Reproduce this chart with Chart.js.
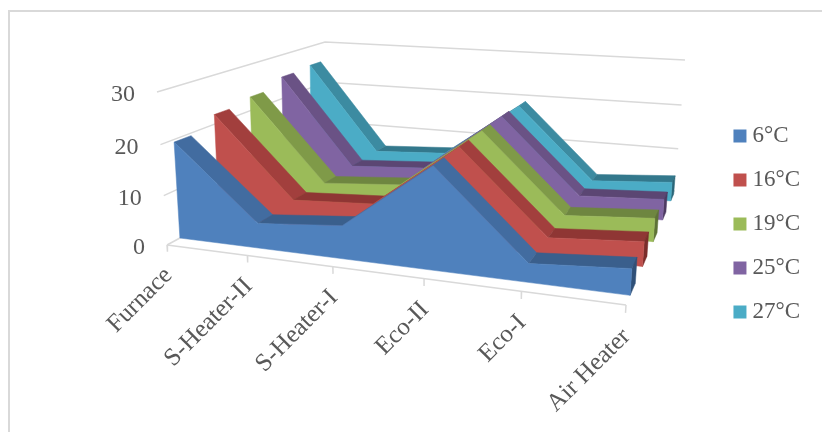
<!DOCTYPE html>
<html>
<head>
<meta charset="utf-8">
<title>Temperature profile</title>
<script src="https://cdn.jsdelivr.net/npm/chart.js@4/dist/chart.umd.js"></script>
<style>
    html, body { margin: 0; padding: 0; background: #fff; }
    #wrap { position: relative; width: 822px; height: 432px; overflow: hidden; }
    #frame { position: absolute; left: 8px; top: 10px; right: -4px; bottom: -4px; border: 2px solid #d9d9d9; }
    canvas { position: absolute; left: 0; top: 0; }
</style>
</head>
<body>
<div id="wrap">
    <div id="frame"></div>
    <canvas id="chart" width="822" height="432"></canvas>
</div>
<script>
const categories = ['Furnace', 'S-Heater-II', 'S-Heater-I', 'Eco-II', 'Eco-I', 'Air Heater'];
const seriesNames = ['6°C', '16°C', '19°C', '25°C', '27°C'];
const values6 = [19.5, 5, 6.5, 19.5, 3.5, 4.8];
const values16 = [22, 5.5, 6.5, 19.5, 3.5, 4.8];
const values19 = [23, 5.2, 6.5, 19.5, 3.5, 4.8];
const values25 = [25, 5.4, 6.5, 19.5, 3.5, 4.5];
const values27 = [25.5, 5.5, 6.5, 19, 3, 4.3];
const valueTicks = [0, 10, 20, 30];

const allValues = [values6, values16, values19, values25, values27];
const faceColors = ['#4f81bd', '#c0504d', '#9bbb59', '#8064a2', '#4bacc6'];
const slopeColors = ['#426ca0', '#a23f3d', '#7f9a48', '#6a5285', '#3c8ba1'];
const flatColors = ['#3a5f8c', '#8f3634', '#6e8640', '#5b4673', '#33788c'];
const capColors = ['#2f5078', '#7a2d2b', '#5e7236', '#4d3b62', '#2b6678'];
const gridColor = '#d9d9d9';
const textColor = '#595959';
const fontFamily = '"Liberation Serif", serif';
const chartTop = 16;

// camera: corners of the floor and of the 30 plane, front-left going round to back-left
const floorCorners = [[167, 245], [626, 305], [675, 191], [326, 159]];
const topCorners = [[157, 92], [637, 127], [685, 60], [325, 42]];
const axisMax = 30;
const heightBias = 1.05;

// depth bands of the series along the floor
const bandStart = 0.062;
const bandPitch = 0.205;
const bandDepth = 0.082;

function squareToQuad(q) {
    const [x0, y0] = q[0], [x1, y1] = q[1], [x2, y2] = q[2], [x3, y3] = q[3];
    const dx1 = x1 - x2, dx2 = x3 - x2, sx = x0 - x1 + x2 - x3;
    const dy1 = y1 - y2, dy2 = y3 - y2, sy = y0 - y1 + y2 - y3;
    const den = dx1 * dy2 - dx2 * dy1;
    const g = (sx * dy2 - dx2 * sy) / den;
    const h = (dx1 * sy - sx * dy1) / den;
    const a = x1 - x0 + g * x1, b = x3 - x0 + h * x3;
    const d = y1 - y0 + g * y1, e = y3 - y0 + h * y3;
    return (u, v) => {
        const w = g * u + h * v + 1;
        return { x: (a * u + b * v + x0) / w, y: (d * u + e * v + y0) / w };
    };
}

const floorMap = squareToQuad(floorCorners);
const topMap = squareToQuad(topCorners);

// category index, depth 0..1 and value -> scene point
function project(cat, depth, value) {
    const u = cat / (categories.length - 1);
    const lo = floorMap(u, depth), hi = topMap(u, depth);
    const t = value / axisMax;
    const k = t / (t + (1 - t) * heightBias);
    return { x: lo.x + (hi.x - lo.x) * k, y: lo.y + (hi.y - lo.y) * k };
}

function polygon(points, color) {
    return { data: points, polygon: true, backgroundColor: color, pointRadius: 0 };
}

function gridLine(points) {
    return { data: points, showLine: true, borderColor: gridColor, borderWidth: 1.5, pointRadius: 0 };
}

// listed in paint order, the chart paints its last dataset first
const paintOrder = [];

valueTicks.forEach(v => {
    paintOrder.push(gridLine([project(0, 0, v), project(0, 1, v), project(categories.length - 1, 1, v)]));
});
paintOrder.push(gridLine([project(0, 0, 0), project(categories.length - 1, 0, 0)]));
categories.forEach((c, i) => {
    paintOrder.push(gridLine([project(i, 0, 0), project(i, 0, -1.4)]));
});

for (let s = allValues.length - 1; s >= 0; s--) {
    const vals = allValues[s];
    const last = vals.length - 1;
    const front = bandStart + bandPitch * s;
    const back = front + bandDepth;

    for (let i = 0; i < last; i++) {
        const steep = Math.abs(vals[i + 1] - vals[i]) > 5;
        paintOrder.push(polygon([
            project(i, front, vals[i]),
            project(i + 1, front, vals[i + 1]),
            project(i + 1, back, vals[i + 1]),
            project(i, back, vals[i])
        ], steep ? slopeColors[s] : flatColors[s]));
    }

    paintOrder.push(polygon([
        project(last, front, vals[last]),
        project(last, back, vals[last]),
        project(last, back, 0),
        project(last, front, 0)
    ], capColors[s]));

    const face = vals.map((v, i) => project(i, front, v));
    face.push(project(last, front, 0), project(0, front, 0));
    paintOrder.push(polygon(face, faceColors[s]));
}

// fills a dataset's points as one closed shape
const polygonFill = {
    id: 'polygonFill',
    beforeDatasetDraw(chart, args) {
        const ds = chart.data.datasets[args.index];
        if (!ds.polygon) return;
        const ctx = chart.ctx;
        ctx.save();
        ctx.beginPath();
        args.meta.data.forEach((p, i) => {
            if (i === 0) ctx.moveTo(p.x, p.y);
            else ctx.lineTo(p.x, p.y);
        });
        ctx.closePath();
        ctx.fillStyle = ds.backgroundColor;
        ctx.strokeStyle = ds.backgroundColor;
        ctx.lineWidth = 0.5;
        ctx.fill();
        ctx.stroke();
        ctx.restore();
        return false;
    }
};

// axis text follows the slanted edges of the box, so it is placed by hand
const axisText = {
    id: 'axisText',
    afterDatasetsDraw(chart) {
        const ctx = chart.ctx;
        const { x, y } = chart.scales;
        ctx.save();
        ctx.fillStyle = textColor;
        ctx.font = '24px ' + fontFamily;

        ctx.textAlign = 'right';
        ctx.textBaseline = 'middle';
        valueTicks.forEach(v => {
            const p = project(0, 0, v);
            ctx.fillText(String(v), x.getPixelForValue(p.x) - 22, y.getPixelForValue(p.y) + 3);
        });

        ctx.font = '25px ' + fontFamily;
        categories.forEach((c, i) => {
            const p = project(i, 0, -1.4);
            ctx.save();
            ctx.translate(x.getPixelForValue(p.x) + 1, y.getPixelForValue(p.y) + 20);
            ctx.rotate(-Math.PI / 4);
            ctx.fillText(c, 0, 0);
            ctx.restore();
        });
        ctx.restore();
    }
};

// scene units are canvas pixels
function pixelRangeX(scale) {
    scale.min = 0;
    scale.max = scale.width;
}

function pixelRangeY(scale) {
    scale.min = chartTop;
    scale.max = chartTop + scale.height;
}

new Chart(document.getElementById('chart'), {
    type: 'scatter',
    data: { datasets: paintOrder.reverse() },
    plugins: [polygonFill, axisText],
    options: {
        responsive: false,
        animation: false,
        layout: { padding: { top: chartTop, right: 12 } },
        scales: {
            x: { type: 'linear', display: false, bounds: 'data', afterDataLimits: pixelRangeX },
            y: { type: 'linear', display: false, bounds: 'data', reverse: true, afterDataLimits: pixelRangeY }
        },
        plugins: {
            tooltip: { enabled: false },
            legend: {
                position: 'right',
                onClick: null,
                labels: {
                    boxWidth: 2,
                    boxHeight: 2,
                    padding: 21,
                    color: textColor,
                    font: { family: fontFamily, size: 23 },
                    generateLabels: () => seriesNames.map((name, i) => ({
                        text: name,
                        fillStyle: faceColors[i],
                        strokeStyle: faceColors[i],
                        lineWidth: 11,
                        lineJoin: 'miter',
                        fontColor: textColor
                    }))
                }
            }
        }
    }
});
</script>
</body>
</html>
